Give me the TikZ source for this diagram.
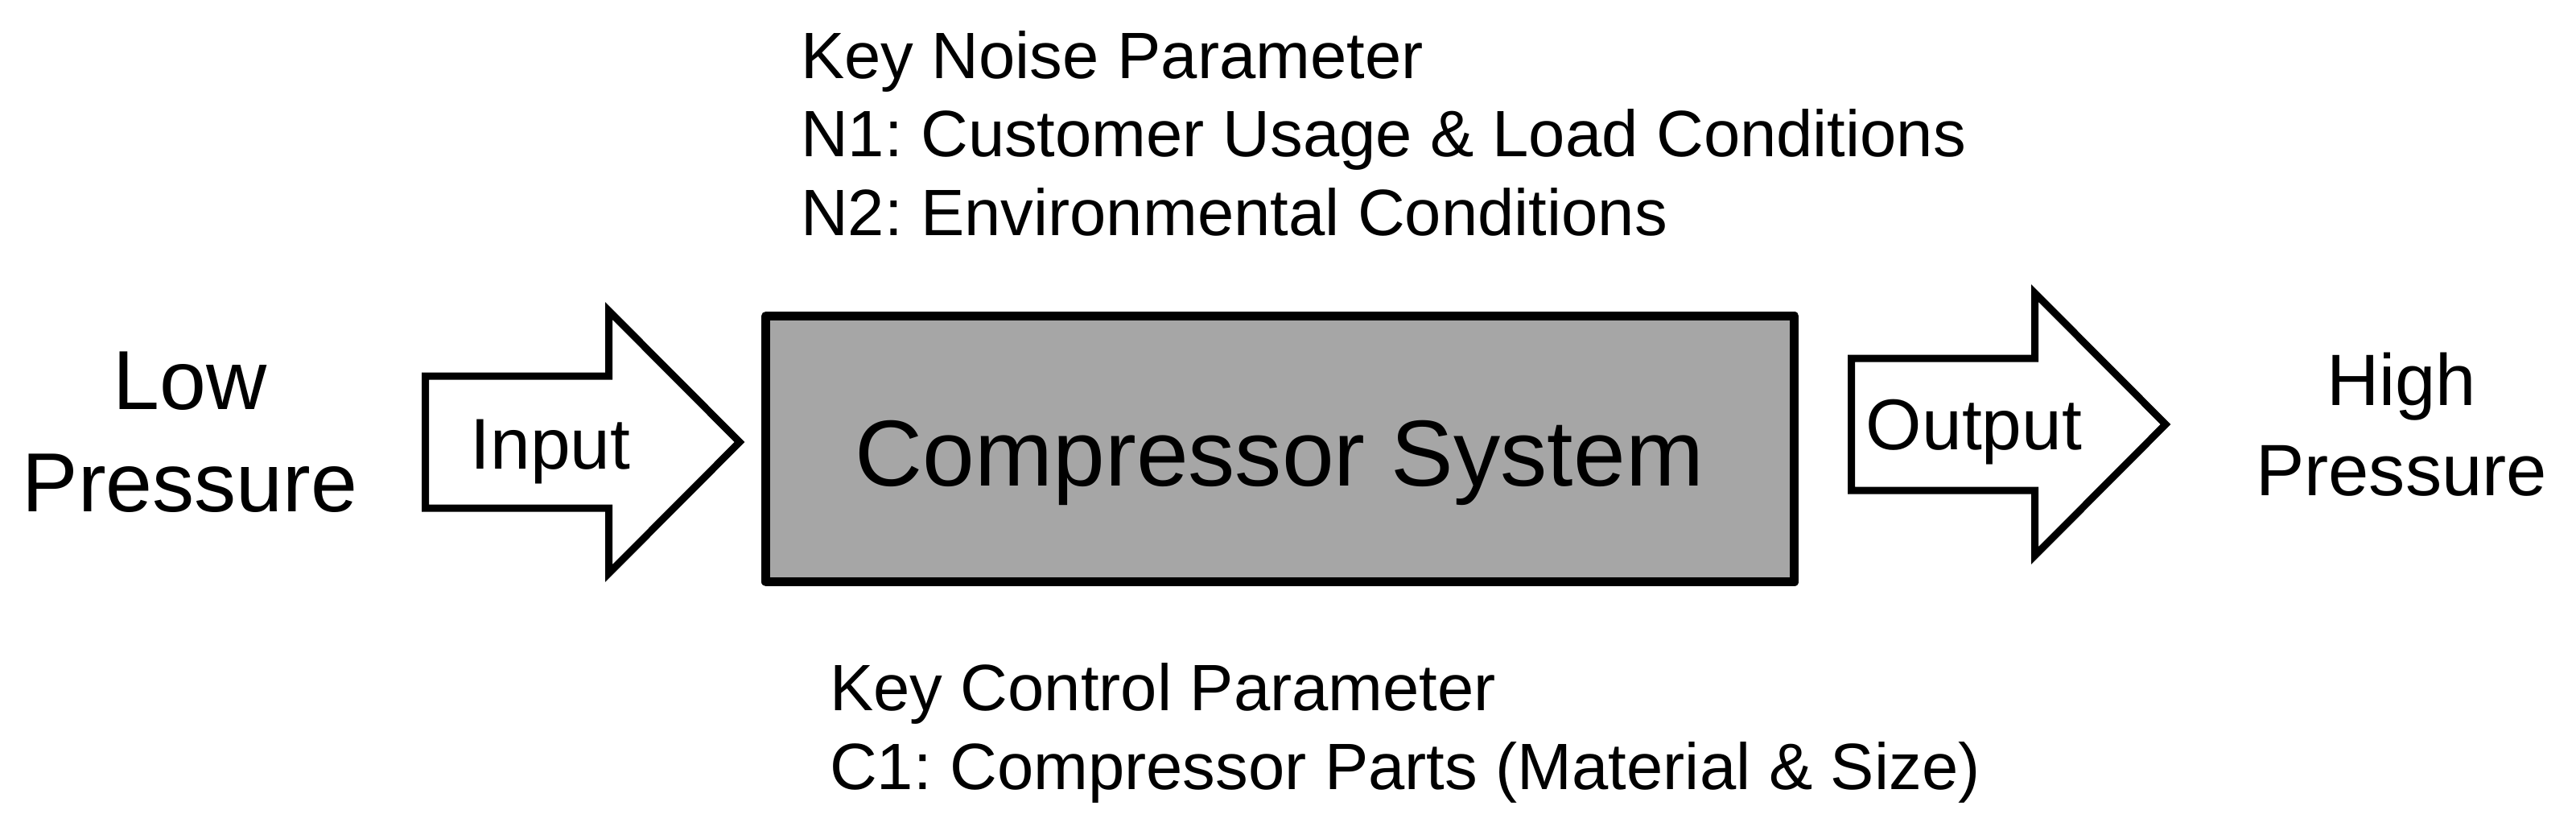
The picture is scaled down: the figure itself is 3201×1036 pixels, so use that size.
\documentclass[tikz,border=0pt]{standalone}
\usepackage{fontspec}
\setmainfont{Liberation Sans}
\frenchspacing
\definecolor{boxgray}{RGB}{166,166,166}
\newcommand\fsNote{\fontsize{23.15pt}{27.7pt}\selectfont}
\newcommand\fsArrow{\fontsize{25.4pt}{30pt}\selectfont}
\newcommand\fsLow{\fontsize{29.6pt}{35pt}\selectfont}
\newcommand\fsHigh{\fontsize{25.7pt}{30pt}\selectfont}
\newcommand\fsSys{\fontsize{33.1pt}{39pt}\selectfont}
\begin{document}
\frenchspacing
\begin{tikzpicture}[x=0.01cm,y=-0.01cm,
  lbl/.style={inner sep=0pt, outer sep=0pt, anchor=base},
  lblw/.style={inner sep=0pt, outer sep=0pt, anchor=base west, font=\fsNote},
  sysbox/.style={draw=black, fill=boxgray, line width=0.11cm, line join=round,
    minimum width=12.775cm, minimum height=3.30cm, inner sep=0pt, outer sep=0pt},
  blockarrow/.style={draw=black, fill=white, line width=0.09cm, line join=miter}]
\useasboundingbox (0,0) rectangle (3201,1036);
% noise parameters
\node[lblw] (n0) at (995,97) {Key Noise Parameter};
\node[lblw] (n1) at (995,194.5) {N1: Customer Usage \& Load Conditions};
\node[lblw] (n2) at (995,292) {N2: Environmental Conditions};
% system box
\node[sysbox] (sys) at (1590.75,557.5) {};
\node[lbl, font=\fsSys] (systext) at (1590,603) {Compressor System};
% input arrow
\draw[blockarrow] (528.5,467) -- (756.5,467) -- (756.5,386) -- (919,549)
  -- (756.5,712) -- (756.5,631) -- (528.5,631) -- cycle;
\node[lbl, font=\fsArrow] (input) at (684,582) {Input};
% output arrow
\begin{scope}[shift={(1772,-22)}]
\draw[blockarrow] (528.5,467) -- (756.5,467) -- (756.5,386) -- (919,549)
  -- (756.5,712) -- (756.5,631) -- (528.5,631) -- cycle;
\end{scope}
\node[lbl, font=\fsArrow] (output) at (2453,558) {Output};
% pressures
\node[lbl, font=\fsLow] (low1) at (236,508) {Low};
\node[lbl, font=\fsLow] (low2) at (236,635) {Pressure};
\node[lbl, font=\fsHigh] (high1) at (2984,503) {High};
\node[lbl, font=\fsHigh] (high2) at (2984,615) {Pressure};
% control parameters
\node[lblw] (c0) at (1031,882) {Key Control Parameter};
\node[lblw] (c1) at (1031,980) {C1: Compressor Parts (Material \& Size)};
\end{tikzpicture}
\end{document}
